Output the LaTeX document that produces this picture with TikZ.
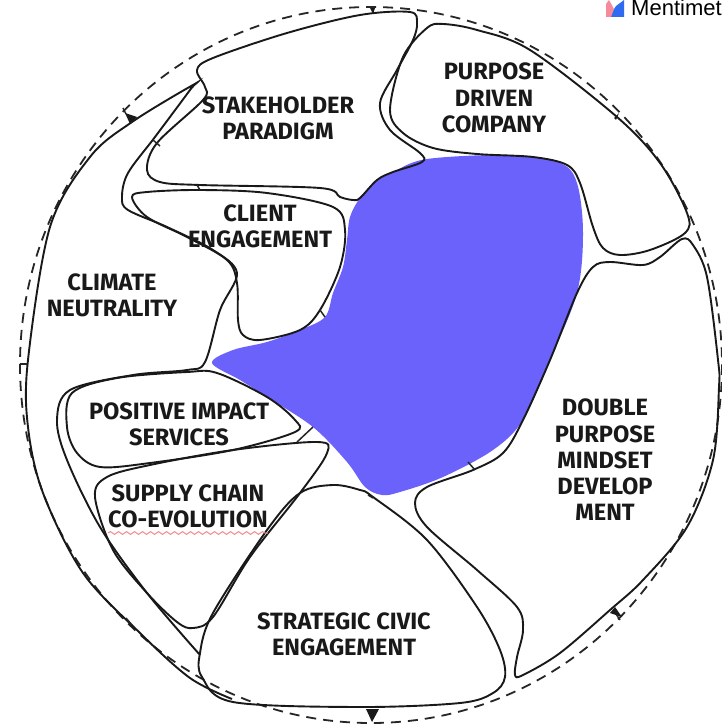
\documentclass[tikz,border=0pt]{standalone}
\usepackage{fontspec}
\setmainfont{Fira Sans}
\newfontfamily\logofont{Liberation Sans}
\usetikzlibrary{decorations.pathmorphing}
\definecolor{blobblue}{HTML}{6A62FB}
\definecolor{wavered}{HTML}{EE8C8C}
\definecolor{logoblue}{HTML}{2F6BF0}
\definecolor{logopink}{HTML}{F58A9C}
\tikzset{
	regionline/.style={line width=1.9pt, draw=black!90},
	regionlabel/.style={align=center, font=\fontsize{23.6}{26.3}\selectfont\bfseries, text=black!90, inner sep=0pt},
	ringline/.style={line width=1.8pt, draw=black!85, dash pattern=on 10pt off 7pt},
	tickline/.style={line width=1.5pt, draw=black!85}
}
\begin{document}
\begin{tikzpicture}[x=1pt,y=-1pt]
	\useasboundingbox (0,0) rectangle (721,727);
	\fill[white] (0,0) rectangle (721,727);
	% Blob in der Mitte
	\fill[blobblue] plot[smooth cycle, tension=0.55] coordinates {(212,363) (240,380) (267,397) (313,427) (347,462) (365,487) (382,495) (400,492) (443,477) (493,450) (523,420) (550,360) (577,293) (583,233) (577,183) (560,163) (510,155) (427,159) (393,172) (377,180) (360,198) (350,217) (347,240) (343,267) (333,293) (325,317) (300,330) (267,342) (233,350)};
	% Ring aussen
	\draw[ringline] (371,365) ellipse [x radius=351, y radius=358];
	% Regionen
	\draw[regionline] plot[smooth, tension=0.55] coordinates {(200,655) (147,593) (100,527) (67,460) (57,420) (70,390) (133,375) (187,370) (205,362) (220,310) (237,273) (213,250) (167,227) (128,210) (122,197) (128,173) (155,137) (190,90) (193,85) (132,122) (90,157) (50,227) (28,360) (28,427) (43,493) (83,573) (140,633) (190,678) (232,699)};
	\draw[regionline] plot[smooth cycle, tension=0.55] coordinates {(197,70) (213,58) (287,33) (360,15) (410,12) (417,23) (413,40) (397,70) (380,103) (390,130) (420,153) (422,162) (393,172) (377,180) (360,198) (353,200) (340,197) (320,188) (200,185) (160,182) (147,170) (157,143) (203,100) (205,87)};
	\draw[regionline] plot[smooth cycle, tension=0.55] coordinates {(132,197) (147,192) (200,190) (267,193) (333,207) (345,230) (340,267) (320,310) (300,330) (260,340) (243,335) (238,320) (237,283) (227,260) (187,237) (147,217)};
	\draw[regionline] plot[smooth cycle, tension=0.55] coordinates {(390,110) (403,57) (427,28) (443,24) (477,30) (530,50) (617,117) (660,163) (687,213) (685,233) (650,250) (620,255) (603,248) (593,227) (580,183) (567,165) (533,157) (477,154) (433,148) (403,133)};
	\draw[regionline] plot[smooth cycle, tension=0.55] coordinates {(682,239) (693,245) (707,277) (718,360) (719,387) (713,460) (687,527) (643,580) (610,610) (560,653) (523,675) (515,675) (517,657) (523,630) (517,607) (477,570) (427,527) (415,503) (427,487) (473,470) (503,453) (523,420) (550,360) (577,293) (593,267) (610,262) (643,265) (660,257)};
	\draw[regionline] plot[smooth cycle, tension=0.55] coordinates {(333,485) (300,493) (267,530) (213,613) (200,653) (202,677) (233,702) (360,707) (460,703) (493,693) (505,677) (500,650) (477,607) (427,540) (373,497) (360,490)};
	\draw[regionline] plot[smooth cycle, tension=0.55] coordinates {(72,393) (117,378) (187,372) (217,373) (267,397) (295,420) (295,432) (233,450) (150,463) (100,467) (77,453) (67,427)};
	\draw[regionline] plot[smooth cycle, tension=0.55] coordinates {(95,497) (107,477) (150,465) (233,450) (317,442) (327,453) (300,493) (250,557) (213,617) (193,628) (177,622) (147,593) (113,550)};
	% Kleine Stege
	\draw[tickline] (153,140) -- (160,146);
	\draw[tickline] (197,185) -- (200,190);
	\draw[tickline] (320,310) -- (325,317);
	\draw[tickline] (297,442) -- (313,427);
	\draw[tickline] (468,462) -- (475,470);
	\draw[tickline] (368,495) -- (373,498);
	% Pfeilspitzen am Ring
	\draw[tickline] (123,108) -- (126,114);
	\fill[black!90] (125,113) -- (137,117) -- (130,124) -- cycle;
	\fill[black!90] (366,709) -- (379,709) -- (372,722) -- cycle;
	\draw[tickline] (620,620) -- (616,614);
	\fill[black!90] (610,613) -- (615,607) -- (622,617) -- cycle;
	\fill[black!90] (614,118) -- (619,113) -- (616,120) -- cycle;
	\fill[black!90] (370,8) -- (375,8) -- (373,14) -- cycle;
	\draw[tickline] (126,618) -- (132,625);
	\draw[tickline] (20,364) -- (27,364);
	% Beschriftungen
	\node[regionlabel] (stakeholder) at (278,118) {STAKEHOLDER\\PARADIGM};
	\node[regionlabel] (purpose) at (494,98) {PURPOSE\\DRIVEN\\COMPANY};
	\node[regionlabel] (client) at (260,226) {CLIENT\\ENGAGEMENT};
	\node[regionlabel] (climate) at (112,295) {CLIMATE\\NEUTRALITY};
	\node[regionlabel] (positive) at (179,424) {POSITIVE IMPACT\\SERVICES};
	\node[regionlabel] (supply) at (188,506) {SUPPLY CHAIN\\CO-EVOLUTION};
	\node[regionlabel] (strategic) at (344,634) {STRATEGIC CIVIC\\ENGAGEMENT};
	\node[regionlabel] (double) at (605,460) {DOUBLE\\PURPOSE\\MINDSET\\DEVELOP\\MENT};
	% Wellenlinie
	\draw[wavered, line width=1pt, decorate, decoration={snake, amplitude=1.4pt, segment length=8pt}] (108,533) -- (268,533);
	% Logo
	\fill[logoblue] (616,6) -- (624,0) -- (624,17) -- (609,17) -- cycle;
	\fill[logopink] (606,17) -- (606,4) -- (609,0) -- (614,9) -- (611,17) -- cycle;
	\node[anchor=base west, inner sep=0pt, font=\logofont\fontsize{22}{22}\selectfont] (logotext) at (631,16) {Mentimet};
\end{tikzpicture}
\end{document}
